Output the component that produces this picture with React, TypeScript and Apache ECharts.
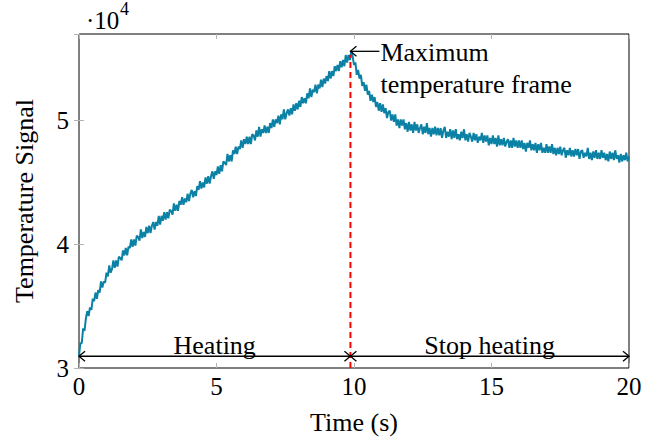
import React, { useEffect, useRef } from "react";
import * as echarts from "echarts";

// Sampling interval of the recorded frames (s)
const FRAME_DT = 0.05;

// Temperature signal, one row per second (20 frames each), t = 0.00 ... 20.00 s
const signalValues = [
  31000, 32000, 32000, 33200, 33000, 34000, 34600, 34200, 34900, 34700, 35600, 35400, 36100, 35600, 36300, 36100, 37000, 36500, 37000, 36900,
  37700, 37400, 38300, 37700, 38000, 38700, 38100, 38700, 38200, 39000, 38900, 38700, 39500, 39100, 39700, 39100, 39800, 39700, 40400, 39800,
  40400, 39900, 40700, 40600, 40300, 41200, 40500, 41000, 40600, 41400, 40900, 41500, 40900, 41500, 41800, 41200, 41800, 41500, 42300, 41600,
  42300, 41900, 42600, 42000, 42600, 42100, 42800, 42700, 42400, 43300, 42700, 43200, 42700, 43500, 43200, 43800, 43200, 43700, 43400, 44100,
  43500, 44100, 44400, 43800, 44300, 43900, 44700, 44400, 45100, 44500, 45000, 44600, 45400, 44900, 45500, 44900, 45500, 45900, 45300, 45900,
  45600, 46300, 45700, 46400, 45900, 46700, 46600, 46400, 47300, 46700, 47200, 46700, 47600, 47300, 47900, 47300, 47900, 47700, 48400, 47800,
  48500, 48100, 48700, 48100, 48700, 48100, 48900, 48800, 48400, 49200, 48700, 49500, 48700, 49300, 49000, 49600, 49000, 49500, 49000, 49800,
  49400, 50100, 49500, 50100, 49800, 50400, 49700, 50500, 50100, 50900, 50100, 50600, 50900, 50400, 51000, 50500, 51300, 50800, 51400, 50900,
  51600, 51100, 51900, 51400, 51800, 51400, 52200, 51800, 52600, 51900, 52500, 52300, 52900, 52200, 52900, 52600, 53300, 52700, 53400, 53000,
  53600, 53200, 54000, 53400, 54000, 53600, 54400, 54000, 54500, 54000, 54800, 54300, 54900, 54400, 55300, 54700, 55300, 54900, 55600, 55200,
  54500, 54700, 53700, 54100, 53400, 53700, 52800, 53100, 52400, 52900, 52100, 52400, 51600, 52100, 51500, 51900, 51100, 51500, 50800, 51400,
  50700, 51300, 50600, 51000, 50200, 50700, 50800, 50000, 50500, 49900, 50500, 49600, 50100, 49400, 50100, 49600, 50100, 49300, 49800, 49100,
  49900, 49200, 49700, 49000, 49900, 49200, 49700, 49000, 49400, 49700, 48900, 49500, 49000, 49800, 48900, 49400, 48700, 49400, 48900, 49500,
  48800, 49400, 48800, 49400, 48600, 49200, 49500, 48600, 49100, 48700, 49300, 48500, 49200, 48600, 49300, 48500, 48900, 48400, 49100, 48600,
  49300, 48400, 48900, 48300, 49000, 48700, 48300, 49000, 48400, 48900, 48200, 48700, 48400, 49000, 48200, 48800, 48300, 48800, 48000, 48600,
  48100, 48800, 48100, 48600, 47900, 48800, 48000, 48500, 48000, 48600, 47900, 48300, 48500, 47800, 48400, 47800, 48600, 47900, 48400, 47800,
  48400, 47800, 48400, 47700, 48200, 47500, 48200, 47800, 48400, 47600, 48100, 47600, 48200, 47400, 48100, 47600, 48200, 47400, 47800, 47400,
  48100, 47400, 47900, 47400, 48100, 47300, 47800, 47200, 47800, 47300, 47900, 47200, 47600, 47800, 47000, 47600, 47200, 47800, 47100, 47600,
  47100, 47700, 47200, 47700, 46900, 47500, 47600, 47000, 47400, 47100, 47800, 46900, 47400, 46800, 47500, 47000, 47600, 46900, 47400, 46900,
  47600, 47000, 47400, 46800, 47300, 46700, 47500, 46900, 47400, 46800, 47600, 46900, 47200, 46600, 47300, 46700, 47200, 46800, 47400, 46700,
  47100,
];

// Annotations
const maxFrameTime = 9.87;
const maxFrameValue = 55600;
const dashTopValue = 55300;
const phaseArrowValue = 30950;
const phases = [
  { from: 0, to: maxFrameTime, label: "Heating" },
  { from: maxFrameTime, to: 20, label: "Stop heating" },
];
const xTicks = [0, 5, 10, 15, 20];
const yTickScale = 10000;

const FONT = "Liberation Serif";
const LINE_COLOR = "#0b82a5";

export default function App() {
  const ref = useRef<HTMLDivElement>(null);

  useEffect(() => {
    if (!ref.current) return;
    const chart = echarts.init(ref.current, undefined, { renderer: "svg" });

    const signal = signalValues.map((v, i) => [Number((i * FRAME_DT).toFixed(2)), v]);

    const chevron = (x: number, y: number, dir: number) => ({
      type: "polyline",
      shape: {
        points: [
          [x + dir * 6, y - 5],
          [x, y],
          [x + dir * 6, y + 5],
        ],
      },
      style: { stroke: "#000", lineWidth: 1.3, fill: "none" },
    });

    const tickStyle = { show: true, inside: true, length: 5, lineStyle: { color: "#b3b3b3", width: 1 } };

    const option: any = {
      animation: false,
      textStyle: { fontFamily: FONT },
      grid: {
        left: 79,
        right: 38,
        top: 34,
        bottom: 77,
        show: true,
        borderColor: "#000",
        borderWidth: 1,
        backgroundColor: "transparent",
      },
      xAxis: [
        {
          type: "value",
          min: 0,
          max: 20,
          interval: 5,
          position: "bottom",
          axisLine: { show: false },
          axisTick: tickStyle,
          splitLine: { show: false },
          axisLabel: {
            color: "#000",
            fontFamily: FONT,
            fontSize: 25,
            margin: 6,
            formatter: (v: number) => (xTicks.includes(v) ? String(v) : ""),
          },
          name: "Time (s)",
          nameLocation: "middle",
          nameGap: 41,
          nameTextStyle: { color: "#000", fontFamily: FONT, fontSize: 26 },
        },
        {
          type: "value",
          min: 0,
          max: 20,
          interval: 5,
          position: "top",
          axisLine: { show: false },
          axisTick: tickStyle,
          splitLine: { show: false },
          axisLabel: { show: false },
        },
      ],
      yAxis: [
        {
          type: "value",
          min: 30000,
          max: 57000,
          interval: yTickScale,
          position: "left",
          axisLine: { show: false },
          axisTick: tickStyle,
          splitLine: { show: false },
          axisLabel: {
            color: "#000",
            fontFamily: FONT,
            fontSize: 25,
            margin: 10,
            showMaxLabel: false,
            formatter: (v: number) => (v % yTickScale === 0 ? String(v / yTickScale) : ""),
          },
          name: "Temperature Signal",
          nameLocation: "middle",
          nameGap: 42,
          nameTextStyle: { color: "#000", fontFamily: FONT, fontSize: 26 },
        },
        {
          type: "value",
          min: 30000,
          max: 57000,
          interval: yTickScale,
          position: "right",
          axisLine: { show: false },
          axisTick: tickStyle,
          splitLine: { show: false },
          axisLabel: { show: false },
        },
      ],
      graphic: [
        {
          type: "text",
          x: 86,
          y: 20,
          style: { text: "·10", fontFamily: FONT, fontSize: 25, fill: "#000", verticalAlign: "middle" },
        },
        {
          type: "text",
          x: 120,
          y: 9,
          style: { text: "4", fontFamily: FONT, fontSize: 18, fill: "#000", verticalAlign: "middle" },
        },
      ],
      series: [
        {
          type: "line",
          data: signal,
          showSymbol: false,
          symbol: "none",
          lineStyle: { color: LINE_COLOR, width: 2 },
          z: 2,
        },
        {
          type: "line",
          data: [
            [maxFrameTime, 30000],
            [maxFrameTime, dashTopValue],
          ],
          showSymbol: false,
          symbol: "none",
          lineStyle: { color: "#ff0000", width: 2, type: [6, 4] },
          z: 3,
        },
        {
          type: "custom",
          data: phases.map((p) => [p.from, p.to, phaseArrowValue]),
          z: 4,
          renderItem: (params: any, api: any) => {
            const a = api.coord([api.value(0), api.value(2)]);
            const b = api.coord([api.value(1), api.value(2)]);
            const label = phases[params.dataIndex].label;
            return {
              type: "group",
              children: [
                {
                  type: "line",
                  shape: { x1: a[0], y1: a[1], x2: b[0], y2: b[1] },
                  style: { stroke: "#000", lineWidth: 1.3 },
                },
                chevron(a[0], a[1], 1),
                chevron(b[0], b[1], -1),
                {
                  type: "text",
                  x: (a[0] + b[0]) / 2,
                  y: a[1] - 11,
                  style: {
                    text: label,
                    font: "26px Liberation Serif",
                    fill: "#000",
                    align: "center",
                    verticalAlign: "middle",
                  },
                },
              ],
            };
          },
        },
        {
          type: "custom",
          data: [[maxFrameTime, maxFrameValue]],
          z: 4,
          renderItem: (params: any, api: any) => {
            const p = api.coord([api.value(0), api.value(1)]);
            return {
              type: "group",
              children: [
                {
                  type: "line",
                  shape: { x1: p[0], y1: p[1], x2: p[0] + 29, y2: p[1] },
                  style: { stroke: "#000", lineWidth: 1.3 },
                },
                chevron(p[0], p[1], 1),
                {
                  type: "text",
                  x: p[0] + 30,
                  y: p[1] + 1.5,
                  style: { text: "Maximum", font: "26px Liberation Serif", fill: "#000", verticalAlign: "middle" },
                },
                {
                  type: "text",
                  x: p[0] + 30,
                  y: p[1] + 33,
                  style: {
                    text: "temperature frame",
                    font: "26px Liberation Serif",
                    fill: "#000",
                    verticalAlign: "middle",
                  },
                },
              ],
            };
          },
        },
      ],
    };

    chart.setOption(option);
    return () => chart.dispose();
  }, []);

  return <div ref={ref} style={{ width: 667, height: 445, position: "absolute", left: 0, top: 0 }} />;
}
